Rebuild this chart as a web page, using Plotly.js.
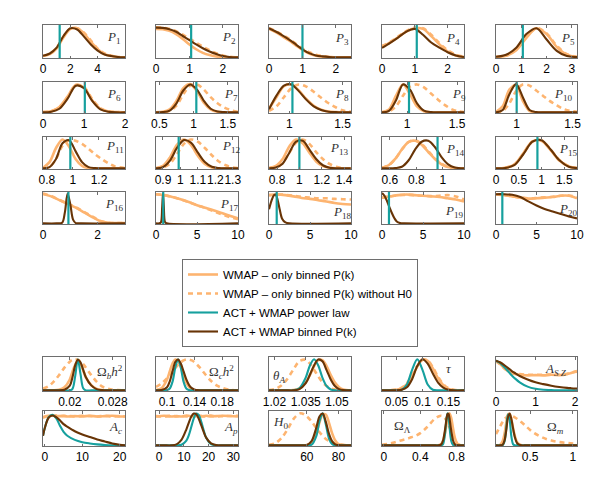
<!DOCTYPE html>
<html>
<head>
<meta charset="utf-8">
<script src="https://cdn.plot.ly/plotly-3.0.1.min.js"></script>
<style>
  html, body { margin: 0; padding: 0; background: #fff; }
  #chart { width: 598px; height: 498px; }
</style>
</head>
<body>
<div id="chart"></div>
<script>
// posterior curves (peak-normalised)
// top block: bandpowers P1..P20
const P1_x = [0,0.5,1,1.5,2,2.5,3,3.5,4,4.5,5,5.5,6];
const P1_wmap = [0.04,0.1,0.28,0.62,0.88,0.9,0.74,0.48,0.25,0.1,0.04,0.01,0];
const P1_noh0 = [0.04,0.11,0.3,0.64,0.89,0.9,0.76,0.52,0.27,0.12,0.05,0.01,0];
const P1_bin = [0.05,0.12,0.3,0.66,0.9,0.86,0.64,0.4,0.21,0.09,0.04,0.01,0];

const P2_x = [0,0.2,0.4,0.6,0.8,1.0,1.2,1.4,1.6,1.8,2.0,2.2,2.45];
const P2_wmap = [0.88,0.87,0.82,0.72,0.57,0.4,0.25,0.14,0.07,0.03,0.01,0,0];
const P2_noh0 = [0.93,0.92,0.88,0.81,0.7,0.58,0.45,0.33,0.22,0.13,0.06,0.02,0];
const P2_bin = [0.92,0.91,0.87,0.79,0.66,0.53,0.4,0.28,0.18,0.1,0.04,0.01,0];

const P3_x = [0,0.2,0.4,0.6,0.8,1.0,1.2,1.4,1.6,1.8,2.0,2.2,2.45];
const P3_wmap = [0.88,0.78,0.65,0.52,0.37,0.23,0.12,0.05,0.02,0.01,0,0,0];
const P3_noh0 = [0.9,0.81,0.7,0.57,0.42,0.28,0.16,0.08,0.04,0.01,0,0,0];
const P3_bin = [0.9,0.8,0.68,0.55,0.4,0.25,0.13,0.06,0.03,0.01,0,0,0];

const P4_x = [0,0.25,0.5,0.75,1,1.25,1.5,1.75,2,2.25,2.5];
const P4_wmap = [0.33,0.46,0.63,0.8,0.9,0.88,0.66,0.4,0.18,0.06,0.01];
const P4_noh0 = [0.35,0.48,0.65,0.82,0.92,0.9,0.7,0.44,0.22,0.08,0.02];
const P4_bin = [0.29,0.45,0.62,0.8,0.88,0.7,0.46,0.3,0.16,0.06,0.01];

const P5_x = [0,0.4,0.8,1.2,1.6,2.0,2.4,2.8,3.2];
const P5_wmap = [0.01,0.05,0.22,0.6,0.9,0.72,0.32,0.08,0.01];
const P5_noh0 = [0.01,0.06,0.25,0.63,0.91,0.74,0.36,0.1,0.02];
const P5_bin = [0.02,0.08,0.3,0.72,0.9,0.55,0.2,0.04,0.01];

const P6_x = [0,0.2,0.4,0.6,0.8,1.0,1.2,1.4,1.6,1.8,2.0];
const P6_wmap = [0.01,0.04,0.18,0.52,0.9,0.82,0.4,0.12,0.03,0.01,0];
const P6_noh0 = [0.01,0.04,0.17,0.5,0.9,0.84,0.44,0.14,0.03,0.01,0];
const P6_bin = [0,0.02,0.12,0.45,0.88,0.8,0.38,0.1,0.02,0,0];

const P7_x = [0.45,0.55,0.65,0.75,0.85,0.95,1.05,1.15,1.25,1.35,1.45,1.55,1.65];
const P7_wmap = [0,0.02,0.1,0.38,0.8,0.93,0.7,0.32,0.1,0.02,0,0,0];
const P7_noh0 = [0,0.01,0.05,0.22,0.6,0.88,0.92,0.75,0.5,0.3,0.16,0.07,0.02];
const P7_bin = [0,0.01,0.06,0.3,0.72,0.92,0.75,0.38,0.12,0.03,0.01,0,0];

const P8_x = [0.81,0.88,0.95,1.02,1.09,1.16,1.23,1.3,1.37,1.44,1.51,1.58];
const P8_wmap = [0.12,0.5,0.86,0.92,0.72,0.44,0.22,0.09,0.03,0.01,0,0];
const P8_noh0 = [0.05,0.2,0.5,0.8,0.92,0.85,0.68,0.48,0.3,0.16,0.06,0.02];
const P8_bin = [0.1,0.55,0.88,0.92,0.7,0.42,0.2,0.08,0.02,0.01,0,0];

const P9_x = [0.75,0.82,0.89,0.96,1.03,1.1,1.17,1.24,1.31,1.38,1.45,1.52,1.57];
const P9_wmap = [0.01,0.1,0.55,0.92,0.6,0.2,0.04,0,0,0,0,0,0];
const P9_noh0 = [0,0.03,0.2,0.55,0.85,0.92,0.82,0.62,0.42,0.24,0.1,0.03,0.01];
const P9_bin = [0,0.05,0.4,0.92,0.75,0.3,0.06,0.01,0,0,0,0,0];

const P10_x = [0.815,0.875,0.935,0.995,1.055,1.115,1.175,1.235,1.295,1.355,1.415,1.475,1.54];
const P10_wmap = [0.02,0.2,0.75,0.9,0.38,0.05,0,0,0,0,0,0,0];
const P10_noh0 = [0,0.05,0.3,0.7,0.92,0.88,0.72,0.55,0.38,0.24,0.12,0.05,0.02];
const P10_bin = [0,0.08,0.6,0.93,0.5,0.08,0.01,0,0,0,0,0,0];

const P11_x = [0.77,0.82,0.87,0.92,0.97,1.02,1.07,1.12,1.17,1.22,1.27,1.32,1.4];
const P11_wmap = [0.02,0.2,0.65,0.92,0.7,0.3,0.08,0.01,0,0,0,0,0];
const P11_noh0 = [0,0.05,0.3,0.72,0.9,0.88,0.78,0.62,0.45,0.3,0.17,0.07,0.01];
const P11_bin = [0,0.04,0.3,0.8,0.9,0.55,0.2,0.04,0.01,0,0,0,0];

const P12_x = [0.86,0.9,0.94,0.98,1.02,1.06,1.1,1.14,1.18,1.22,1.26,1.3,1.33];
const P12_wmap = [0.01,0.08,0.35,0.75,0.92,0.75,0.4,0.14,0.03,0,0,0,0];
const P12_noh0 = [0,0.03,0.15,0.45,0.78,0.92,0.85,0.65,0.42,0.22,0.1,0.03,0.01];
const P12_bin = [0,0.04,0.25,0.65,0.9,0.82,0.5,0.2,0.05,0.01,0,0,0];

const P13_x = [0.73,0.79,0.85,0.91,0.97,1.03,1.09,1.15,1.21,1.27,1.33,1.39,1.46];
const P13_wmap = [0.02,0.08,0.3,0.7,0.92,0.8,0.5,0.22,0.07,0.02,0,0,0];
const P13_noh0 = [0,0.04,0.18,0.5,0.82,0.92,0.78,0.52,0.3,0.14,0.05,0.01,0];
const P13_bin = [0,0.03,0.15,0.5,0.85,0.88,0.6,0.3,0.1,0.02,0,0,0];

const P14_x = [0.54,0.59,0.64,0.69,0.74,0.79,0.84,0.89,0.94,0.99,1.04,1.09,1.16];
const P14_wmap = [0.02,0.1,0.3,0.6,0.84,0.88,0.75,0.52,0.3,0.13,0.04,0.01,0];
const P14_noh0 = [0.02,0.1,0.3,0.6,0.84,0.9,0.78,0.55,0.32,0.15,0.05,0.01,0];
const P14_bin = [0,0,0.01,0.05,0.25,0.6,0.85,0.88,0.68,0.36,0.13,0.03,0];

const P15_x = [0,0.2,0.4,0.6,0.8,1.0,1.2,1.4,1.6,1.78];
const P15_wmap = [0,0.02,0.12,0.48,0.86,0.88,0.58,0.24,0.06,0.01];
const P15_noh0 = [0,0.02,0.12,0.47,0.85,0.9,0.6,0.26,0.07,0.01];
const P15_bin = [0,0.01,0.1,0.45,0.85,0.9,0.6,0.25,0.05,0.01];

const P16_x = [0,0.3,0.6,0.9,1.2,1.5,1.8,2.1,2.4,2.7,3];
const P16_wmap = [0.94,0.86,0.74,0.62,0.5,0.35,0.2,0.07,0.02,0.01,0.01];
const P16_noh0 = [0.95,0.87,0.75,0.63,0.51,0.37,0.22,0.08,0.02,0.01,0.01];
const P16_binx = [0,0.5,0.7,0.8,0.9,1.0,1.1,1.2,1.4,3];
const P16_bin = [0,0,0.02,0.35,0.95,0.6,0.12,0.01,0,0];

const P17_x = [0,1,2,3,4,5,6,7,8,9,10];
const P17_wmap = [0.93,0.9,0.84,0.77,0.68,0.58,0.5,0.42,0.33,0.24,0.16];
const P17_noh0 = [0.93,0.9,0.84,0.77,0.68,0.58,0.49,0.39,0.29,0.2,0.13];
const P17_binx = [0,0.4,0.6,0.75,0.85,0.95,1.1,1.3,10];
const P17_bin = [0,0,0.03,0.5,0.95,0.55,0.04,0,0];

const P18_x = [0,1,2,3,4,5,6,7,8,9,10];
const P18_wmap = [0.9,0.92,0.9,0.86,0.81,0.78,0.74,0.7,0.65,0.62,0.6];
const P18_noh0 = [0.9,0.92,0.91,0.88,0.84,0.82,0.8,0.8,0.78,0.77,0.76];
const P18_binx = [0,0.3,0.6,0.8,1.0,1.3,1.6,2.0,2.5,10];
const P18_bin = [0.45,0.72,0.9,0.92,0.8,0.45,0.15,0.03,0,0];

const P19_x = [0,1,2,3,4,5,6,7,8,9,10];
const P19_wmap = [0.82,0.86,0.9,0.92,0.9,0.88,0.86,0.84,0.8,0.76,0.7];
const P19_noh0 = [0.82,0.86,0.9,0.91,0.9,0.88,0.87,0.88,0.9,0.86,0.76];
const P19_binx = [0,0.3,0.6,0.9,1.2,1.5,1.8,2.2,2.7,10];
const P19_bin = [0.97,0.88,0.72,0.52,0.33,0.17,0.06,0.01,0,0];

const P20_x = [0,1,2,3,4,5,6,7,8,9,10];
const P20_wmap = [0.93,0.9,0.86,0.82,0.79,0.8,0.82,0.84,0.88,0.88,0.8];
const P20_noh0 = [0.92,0.9,0.86,0.82,0.8,0.81,0.83,0.85,0.88,0.89,0.83];
const P20_bin = [0.93,0.93,0.91,0.84,0.7,0.57,0.46,0.38,0.3,0.22,0.16];

// power-law best fit drawn as the vertical teal line in P1..P20
const fiducial = [1.22,1.05,1.0,1.06,1.06, 1.02,1.04,1.03,1.02,1.0,
                  0.98,0.99,1.0,0.96,0.91, 0.93,0.88,0.94,0.85,0.78];

// bottom block: cosmological + foreground parameters
const obh2_x = [0.015,0.016,0.017,0.018,0.019,0.02,0.0205,0.021,0.0215,0.022,0.0225,0.023,0.024,0.025,0.026,0.027,0.028,0.029,0.0303];
const obh2_wmap = [0,0,0,0.02,0.1,0.35,0.6,0.82,0.95,0.85,0.64,0.42,0.17,0.05,0.01,0,0,0,0];
const obh2_noh0 = [0.06,0.13,0.28,0.49,0.73,0.92,0.98,1,0.98,0.92,0.84,0.73,0.49,0.28,0.13,0.06,0.02,0.01,0];
const obh2_pl = [0,0,0,0,0,0,0.05,0.45,1,0.52,0.07,0,0,0,0,0,0,0,0];
const obh2_bin = [0,0,0,0,0.02,0.15,0.42,0.8,0.98,0.9,0.66,0.42,0.16,0.04,0.01,0,0,0,0];

const och2_x = [0.084,0.092,0.1,0.104,0.108,0.112,0.116,0.12,0.124,0.128,0.132,0.136,0.14,0.148,0.156,0.164,0.172,0.18,0.19,0.203];
const och2_wmap = [0.01,0.07,0.35,0.61,0.86,0.99,0.95,0.74,0.47,0.25,0.11,0.04,0.01,0,0,0,0,0,0,0];
const och2_noh0 = [0.11,0.22,0.39,0.5,0.61,0.72,0.82,0.9,0.96,0.99,0.99,0.96,0.9,0.72,0.5,0.3,0.16,0.08,0.02,0];
const och2_pl = [0,0,0.01,0.06,0.28,0.73,1,0.73,0.28,0.06,0.01,0,0,0,0,0,0,0,0,0];
const och2_bin = [0,0.01,0.1,0.29,0.61,0.91,0.99,0.86,0.61,0.35,0.17,0.07,0.02,0,0,0,0,0,0,0];

const thA_x = [1.0174,1.02,1.023,1.026,1.029,1.032,1.035,1.037,1.039,1.041,1.043,1.045,1.047,1.049,1.051,1.053,1.0567];
const thA_wmap = [0,0,0,0,0.01,0.06,0.25,0.49,0.78,0.97,0.97,0.78,0.49,0.25,0.1,0.03,0];
const thA_noh0 = [0.01,0.04,0.14,0.35,0.66,0.94,0.98,0.86,0.66,0.45,0.26,0.14,0.06,0.03,0.01,0,0];
const thA_pl = [0,0,0,0,0,0.07,0.41,0.8,1,0.8,0.41,0.14,0.03,0,0,0,0];
const thA_bin = [0,0,0,0,0,0.04,0.23,0.5,0.8,0.99,0.93,0.65,0.35,0.14,0.04,0.01,0];

const tau_x = [0.022,0.04,0.05,0.06,0.07,0.08,0.09,0.1,0.11,0.12,0.13,0.14,0.15,0.16,0.18];
const tau_wmap = [0,0,0.02,0.07,0.2,0.45,0.76,0.98,0.95,0.7,0.39,0.17,0.05,0.01,0];
const tau_noh0 = [0,0.01,0.03,0.09,0.23,0.48,0.78,0.98,0.96,0.74,0.44,0.2,0.07,0.02,0];
const tau_pl = [0,0,0,0.02,0.19,0.66,1,0.66,0.19,0.02,0,0,0,0,0];
const tau_bin = [0,0,0,0.02,0.1,0.36,0.78,1,0.86,0.54,0.25,0.09,0.02,0,0];

const asz_x = [0,0.1,0.2,0.3,0.4,0.5,0.6,0.8,1.0,1.2,1.4,1.6,1.8,1.9,2.05];
const asz_wmap = [0.95,0.85,0.72,0.62,0.55,0.52,0.5,0.48,0.49,0.48,0.5,0.49,0.52,0.56,0.62];
const asz_noh0 = [0.93,0.84,0.72,0.63,0.57,0.54,0.52,0.5,0.5,0.5,0.51,0.5,0.53,0.57,0.6];
const asz_pl = [0.95,0.88,0.76,0.62,0.48,0.36,0.26,0.12,0.05,0.02,0.01,0,0,0,0];
const asz_bin = [0.95,0.9,0.82,0.72,0.62,0.54,0.46,0.35,0.26,0.2,0.15,0.11,0.08,0.07,0.06];

const ac_x = [-0.5,0,1,2,3,4,5,6,8,10,12,14,16,18,20,21.4];
const ac_wmap = [0.88,0.9,0.92,0.93,0.92,0.91,0.92,0.9,0.91,0.9,0.92,0.9,0.91,0.92,0.9,0.9];
const ac_noh0 = [0.86,0.88,0.91,0.92,0.93,0.92,0.91,0.92,0.9,0.92,0.91,0.9,0.92,0.9,0.91,0.9];
const ac_pl = [0.3,0.55,0.88,0.95,0.85,0.62,0.42,0.3,0.17,0.1,0.06,0.03,0.01,0,0,0];
const ac_bin = [0.3,0.55,0.86,0.93,0.88,0.78,0.66,0.58,0.44,0.34,0.26,0.18,0.12,0.06,0.02,0];

const ap_x = [-1.3,2,5,7,9,11,12,13,14,15,16,17,18,19,21,23,26,31.9];
const ap_wmap = [0.9,0.92,0.9,0.91,0.9,0.93,0.92,0.9,0.92,0.91,0.93,0.9,0.91,0.92,0.9,0.91,0.92,0.9];
const ap_noh0 = [0.91,0.9,0.92,0.9,0.91,0.9,0.91,0.93,0.9,0.92,0.9,0.92,0.9,0.91,0.93,0.9,0.91,0.92];
const ap_pl = [0,0,0,0,0.02,0.15,0.32,0.58,0.84,0.99,0.95,0.74,0.47,0.24,0.04,0,0,0];
const ap_bin = [0,0,0,0.03,0.17,0.5,0.71,0.9,0.99,0.97,0.83,0.63,0.42,0.24,0.06,0.01,0,0];

const h0_x = [36,40,44,48,52,56,60,63,66,68,70,72,74,76,78,80,84,88];
const h0_wmap = [0,0,0,0,0,0,0.01,0.09,0.38,0.71,0.96,0.96,0.71,0.38,0.15,0.04,0,0];
const h0_noh0 = [0.02,0.07,0.23,0.52,0.85,1,0.9,0.74,0.54,0.41,0.3,0.2,0.14,0.09,0.05,0.03,0.01,0];
const h0_pl = [0,0,0,0,0,0,0,0.02,0.29,0.75,1,0.66,0.22,0.04,0,0,0,0];
const h0_bin = [0,0,0,0,0,0,0.01,0.13,0.55,0.9,0.99,0.74,0.37,0.13,0.03,0.01,0,0];

const oml_x = [-0.02,0.05,0.1,0.15,0.2,0.25,0.3,0.35,0.4,0.45,0.5,0.55,0.6,0.63,0.65,0.67,0.69,0.7,0.71,0.72,0.74,0.76,0.78,0.81,0.84,0.88];
const oml_wmap = [0,0,0,0,0,0,0,0,0,0,0,0,0.003,0.04,0.14,0.36,0.69,0.85,0.96,1,0.85,0.52,0.23,0.04,0,0];
const oml_noh0 = [0.02,0.05,0.08,0.12,0.16,0.2,0.25,0.3,0.38,0.5,0.65,0.8,0.9,0.92,0.9,0.85,0.76,0.7,0.64,0.57,0.42,0.28,0.15,0.04,0.01,0];
const oml_pl = [0,0,0,0,0,0,0,0,0,0,0,0,0,0,0.04,0.32,0.88,1,0.88,0.61,0.14,0.01,0,0,0,0];
const oml_bin = [0,0,0,0,0,0,0,0,0,0,0,0,0,0.03,0.15,0.46,0.86,0.98,0.98,0.86,0.46,0.15,0.03,0,0,0];

const omm_x = [0.1,0.15,0.18,0.2,0.22,0.24,0.26,0.28,0.3,0.32,0.35,0.4,0.45,0.5,0.55,0.65,0.75,0.85,0.95,1.05];
const omm_wmap = [0,0.02,0.14,0.36,0.69,0.96,0.98,0.8,0.54,0.3,0.09,0,0,0,0,0,0,0,0,0];
const omm_noh0 = [0.35,0.6,0.74,0.82,0.87,0.9,0.92,0.92,0.9,0.87,0.82,0.72,0.6,0.48,0.38,0.24,0.15,0.1,0.07,0.05];
const omm_pl = [0,0,0.01,0.12,0.52,0.97,0.79,0.28,0.04,0,0,0,0,0,0,0,0,0,0,0];
const omm_bin = [0,0,0.03,0.15,0.46,0.87,0.99,0.82,0.53,0.27,0.06,0,0,0,0,0,0,0,0,0];

// axis ticks
const tickVals = [
  [0,2,4],[0,1,2],[0,1,2],[0,1,2],[0,1,2,3],
  [0,1,2],[0.5,1,1.5],[1,1.5],[1,1.5],[1,1.5],
  [0.8,1,1.2],[0.9,1,1.1,1.2,1.3],[0.8,1,1.2,1.4],[0.6,0.8,1],[0,0.5,1,1.5],
  [0,2],[0,5,10],[0,5,10],[0,5,10],[0,5,10],
  [0.02,0.028],[0.1,0.14,0.18],[1.02,1.035,1.05],[0.05,0.1,0.15],[0,1,2],
  [0,10,20],[0,10,20,30],[60,80],[0,0.4,0.8],[0.5,1]
];
const labels = [
  '<i>P</i><sub>1</sub>','<i>P</i><sub>2</sub>','<i>P</i><sub>3</sub>','<i>P</i><sub>4</sub>','<i>P</i><sub>5</sub>',
  '<i>P</i><sub>6</sub>','<i>P</i><sub>7</sub>','<i>P</i><sub>8</sub>','<i>P</i><sub>9</sub>','<i>P</i><sub>10</sub>',
  '<i>P</i><sub>11</sub>','<i>P</i><sub>12</sub>','<i>P</i><sub>13</sub>','<i>P</i><sub>14</sub>','<i>P</i><sub>15</sub>',
  '<i>P</i><sub>16</sub>','<i>P</i><sub>17</sub>','<i>P</i><sub>18</sub>','<i>P</i><sub>19</sub>','<i>P</i><sub>20</sub>',
  'Ω<sub><i>b</i></sub><i>h</i><sup>2</sup>','Ω<sub><i>c</i></sub><i>h</i><sup>2</sup>','<i>θ</i><sub><i>A</i></sub>','<i>τ</i>','<i>A</i><sub><i>S Z</i></sub>',
  '<i>A</i><sub><i>c</i></sub>','<i>A</i><sub><i>p</i></sub>','<i>H</i><sub>0</sub>','Ω<sub>Λ</sub>','Ω<sub><i>m</i></sub>'
];
const legendNames = ['WMAP – only binned P(k)', 'WMAP – only binned P(k) without H0',
                     'ACT + WMAP power law', 'ACT + WMAP binned P(k)'];

// ---- layout bits (pixels in the 598x498 figure) ----
const W = 598, H = 498;
const colLeft = [43, 156, 269, 382, 496];
const colWidth = [82, 82, 82, 82, 81];
const rowTop = [25, 82, 137, 192, 357, 411];
const rowBot = [58, 113, 169, 224, 391, 446];
const xRanges = [
  [0,6],[0,2.45],[0,2.45],[0,2.5],[0,3.2],
  [0,2],[0.45,1.65],[0.81,1.58],[0.75,1.57],[0.815,1.54],
  [0.77,1.4],[0.86,1.33],[0.728,1.462],[0.54,1.16],[0,1.78],
  [0,3],[0,10],[0,10],[0,10],[0,10],
  [0.015,0.0303],[0.084,0.203],[1.0174,1.0567],[0.022,0.18],[0,2.05],
  [-0.5,21.4],[-1.3,31.9],[36,88],[-0.02,0.88],[0.1,1.05]
];
const labelPos = [
  [0.756,0.62],[0.78,0.62],[0.78,0.6],[0.756,0.6],[0.78,0.6],
  [0.756,0.6],[0.81,0.6],[0.78,0.61],[0.83,0.6],[0.69,0.6],
  [0.744,0.7],[0.78,0.7],[0.72,0.63],[0.756,0.62],[0.75,0.62],
  [0.73,0.6],[0.756,0.6],[0.75,0.36],[0.744,0.4],[0.75,0.44],
  [0.63,0.55],[0.62,0.55],[0.03,0.42],[0.76,0.65],[0.58,0.64],
  [0.78,0.53],[0.8,0.53],[0.03,0.66],[0.12,0.55],[0.6,0.53]
];

const ORANGE = 'rgb(253,180,112)';
const TEAL = 'rgb(22,160,158)';
const BROWN = 'rgb(104,52,6)';
const BOX = '#6e6e6e';

const topSets = [
  [P1_x,P1_wmap,P1_noh0,P1_x,P1_bin],[P2_x,P2_wmap,P2_noh0,P2_x,P2_bin],
  [P3_x,P3_wmap,P3_noh0,P3_x,P3_bin],[P4_x,P4_wmap,P4_noh0,P4_x,P4_bin],
  [P5_x,P5_wmap,P5_noh0,P5_x,P5_bin],[P6_x,P6_wmap,P6_noh0,P6_x,P6_bin],
  [P7_x,P7_wmap,P7_noh0,P7_x,P7_bin],[P8_x,P8_wmap,P8_noh0,P8_x,P8_bin],
  [P9_x,P9_wmap,P9_noh0,P9_x,P9_bin],[P10_x,P10_wmap,P10_noh0,P10_x,P10_bin],
  [P11_x,P11_wmap,P11_noh0,P11_x,P11_bin],[P12_x,P12_wmap,P12_noh0,P12_x,P12_bin],
  [P13_x,P13_wmap,P13_noh0,P13_x,P13_bin],[P14_x,P14_wmap,P14_noh0,P14_x,P14_bin],
  [P15_x,P15_wmap,P15_noh0,P15_x,P15_bin],[P16_x,P16_wmap,P16_noh0,P16_binx,P16_bin],
  [P17_x,P17_wmap,P17_noh0,P17_binx,P17_bin],[P18_x,P18_wmap,P18_noh0,P18_binx,P18_bin],
  [P19_x,P19_wmap,P19_noh0,P19_binx,P19_bin],[P20_x,P20_wmap,P20_noh0,P20_x,P20_bin]
];
const bottomSets = [
  [obh2_x,obh2_wmap,obh2_noh0,obh2_pl,obh2_bin],[och2_x,och2_wmap,och2_noh0,och2_pl,och2_bin],
  [thA_x,thA_wmap,thA_noh0,thA_pl,thA_bin],[tau_x,tau_wmap,tau_noh0,tau_pl,tau_bin],
  [asz_x,asz_wmap,asz_noh0,asz_pl,asz_bin],[ac_x,ac_wmap,ac_noh0,ac_pl,ac_bin],
  [ap_x,ap_wmap,ap_noh0,ap_pl,ap_bin],[h0_x,h0_wmap,h0_noh0,h0_pl,h0_bin],
  [oml_x,oml_wmap,oml_noh0,oml_pl,oml_bin],[omm_x,omm_wmap,omm_noh0,omm_pl,omm_bin]
];

function ax(n) { return n === 0 ? '' : String(n + 1); }

function curve(x, y, n, color, width, dash, k, legend) {
  return {
    x: x, y: y, xaxis: 'x' + ax(n), yaxis: 'y' + ax(n),
    type: 'scatter', mode: 'lines',
    line: {color: color, width: width, dash: dash, shape: 'spline', smoothing: 0.9},
    name: legendNames[k], legendgroup: 'g' + k, showlegend: legend,
    hoverinfo: 'skip'
  };
}

let data = [];
topSets.forEach(function(s, i) {
  data.push(curve(s[0], s[1], i, ORANGE, 2.6, 'solid', 0, false));
  data.push(curve(s[0], s[2], i, ORANGE, 2.6, '5px,4px', 1, false));
  data.push(curve(s[3], s[4], i, BROWN, 2.1, 'solid', 3, false));
  data.push({
    x: [fiducial[i], fiducial[i]], y: [-0.05, 1.05],
    xaxis: 'x' + ax(i), yaxis: 'y' + ax(i), type: 'scatter', mode: 'lines',
    line: {color: TEAL, width: 2.2}, showlegend: false, hoverinfo: 'skip'
  });
});
bottomSets.forEach(function(s, j) {
  let i = 20 + j;
  let leg = (j === 0);
  data.push(curve(s[0], s[1], i, ORANGE, 2.6, 'solid', 0, leg));
  data.push(curve(s[0], s[2], i, ORANGE, 2.6, '5px,4px', 1, leg));
  data.push(curve(s[0], s[3], i, TEAL, 2.1, 'solid', 2, leg));
  data.push(curve(s[0], s[4], i, BROWN, 2.1, 'solid', 3, leg));
});

let layout = {
  width: W, height: H,
  margin: {l: 0, r: 0, t: 0, b: 0},
  paper_bgcolor: '#fff', plot_bgcolor: '#fff',
  font: {family: 'Liberation Sans, Arial, sans-serif', size: 12, color: '#000'},
  showlegend: true,
  legend: {
    x: 182 / W, y: 1 - 259 / H, xanchor: 'left', yanchor: 'top',
    bgcolor: '#fff', bordercolor: BOX, borderwidth: 1,
    font: {family: 'Liberation Sans, Arial, sans-serif', size: 11.5, color: '#000'},
    traceorder: 'normal'
  },
  annotations: []
};

for (let i = 0; i < 30; i++) {
  let row = i < 20 ? Math.floor(i / 5) : 4 + Math.floor((i - 20) / 5);
  let col = i % 5;
  let x0 = colLeft[col], x1 = colLeft[col] + colWidth[col];
  layout['xaxis' + ax(i)] = {
    domain: [x0 / W, x1 / W],
    anchor: 'y' + ax(i),
    range: xRanges[i],
    tickmode: 'array', tickvals: tickVals[i], ticktext: tickVals[i].map(String),
    tickangle: 0,
    ticks: 'inside', ticklen: 2.5, tickwidth: 1, tickcolor: BOX,
    showline: true, linecolor: BOX, linewidth: 1, mirror: 'ticks',
    showgrid: false, zeroline: false,
    tickfont: {size: 12, family: 'Liberation Sans, Arial, sans-serif', color: '#000'}
  };
  layout['yaxis' + ax(i)] = {
    domain: [1 - rowBot[row] / H, 1 - rowTop[row] / H],
    anchor: 'x' + ax(i),
    range: i < 20 ? [-0.02, 1.0] : [-0.02, 1.07],
    showticklabels: false, ticks: '',
    showline: true, linecolor: BOX, linewidth: 1, mirror: true,
    showgrid: false, zeroline: false
  };
  layout.annotations.push({
    xref: 'x' + ax(i) + ' domain', yref: 'y' + ax(i) + ' domain',
    x: labelPos[i][0], y: labelPos[i][1], xanchor: 'left', yanchor: 'middle',
    text: labels[i], showarrow: false,
    font: {family: 'Liberation Serif, Times New Roman, serif', size: 13, color: '#333'}
  });
}

Plotly.newPlot('chart', data, layout, {displayModeBar: false, staticPlot: true});
</script>
</body>
</html>
